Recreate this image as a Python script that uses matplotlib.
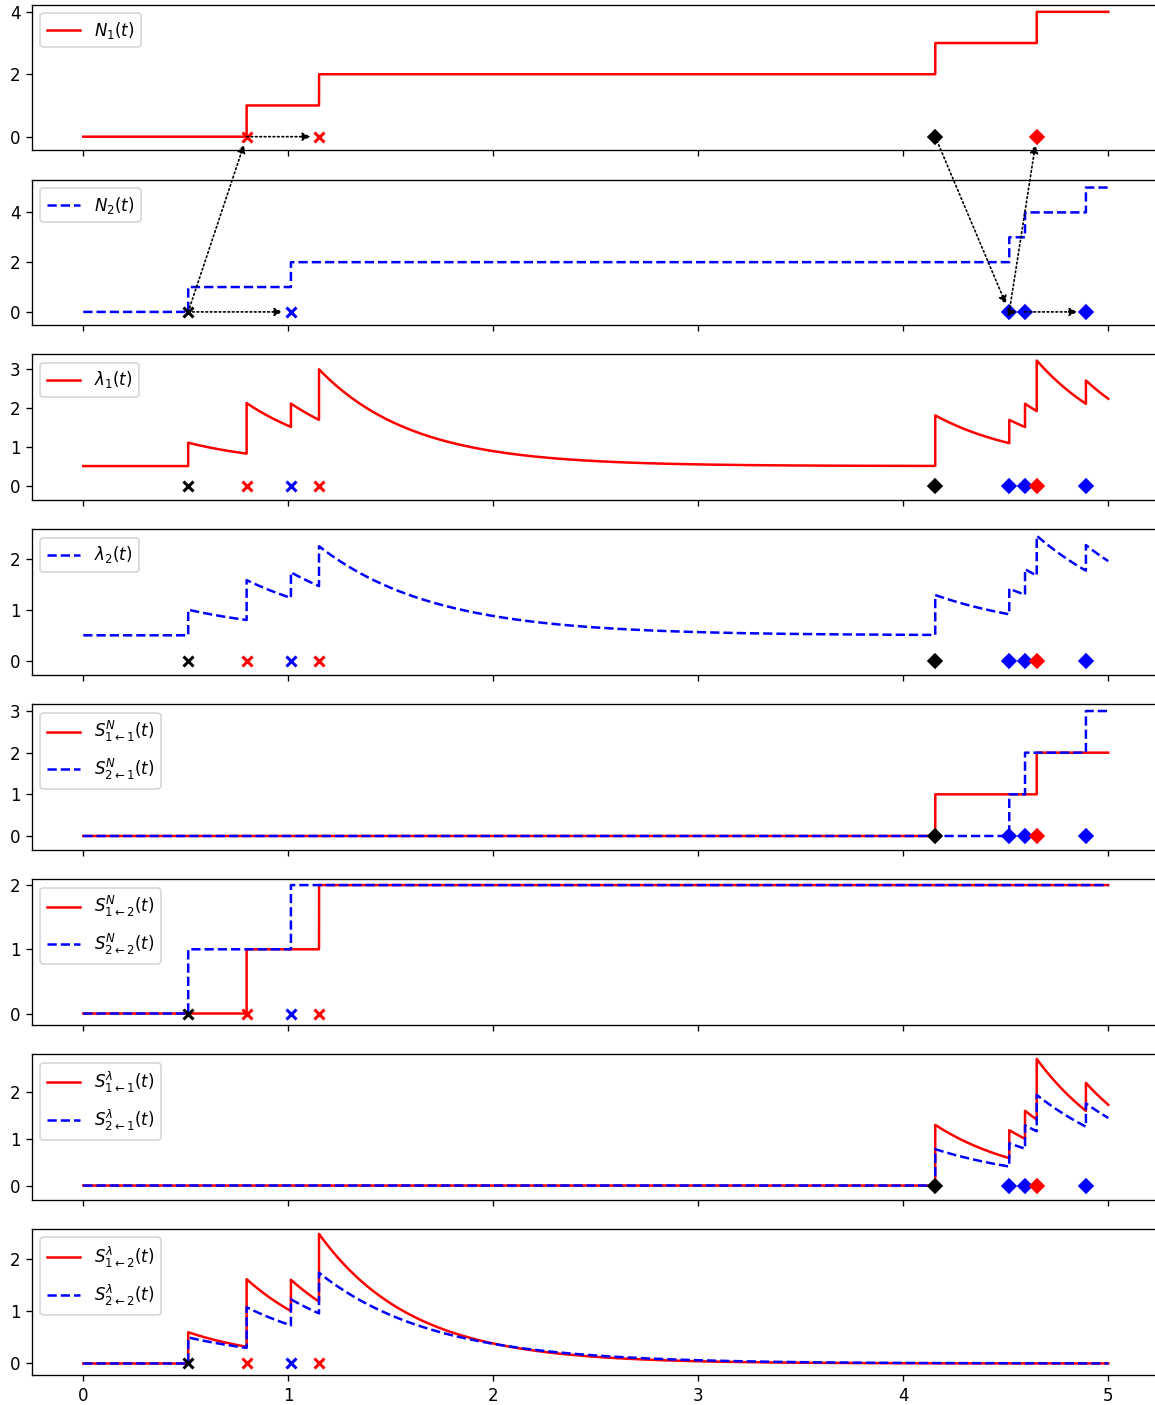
import numpy as np
import matplotlib
matplotlib.use("Agg")
import matplotlib.pyplot as plt
from matplotlib.patches import ConnectionPatch

# ---- event data of a two-dimensional Hawkes process ----
event_times = [0.512, 0.797, 1.013, 1.150, 4.156, 4.517, 4.594, 4.651, 4.891]
event_dims = [2, 1, 2, 1, 1, 2, 2, 1, 2]          # dimension each event belongs to
event_parents = [None, 0, 0, 1, None, 4, 5, 5, 6]  # index of triggering event (None = immigrant)

# ---- model parameters ----
mu = [0.5, 0.5]                      # baseline intensities
alpha = [[1.30, 0.60],               # alpha[i][j]: jump in lambda_i caused by an event of dim j
         [0.78, 0.50]]
beta = [2.2, 1.8]                    # decay rate of lambda_i
t_end = 5.0

# per-panel y-limits
ylims = [(-0.44, 4.23), (-0.54, 5.32), (-0.38, 3.37), (-0.28, 2.57),
         (-0.34, 3.16), (-0.18, 2.09), (-0.31, 2.815), (-0.22, 2.58)]

colors = {1: "r", 2: "b"}
styles = {1: "-", 2: "--"}

n_ev = len(event_times)
ev_t = np.array(event_times)
ev_d = np.array(event_dims)


def root_of(k):
    while event_parents[k] is not None:
        k = event_parents[k]
    return k


roots = [root_of(k) for k in range(n_ev)]
root_dim = np.array([event_dims[r] for r in roots])
cluster_marker = {0: "x", 4: "D"}
markers = [cluster_marker[r] for r in roots]
marker_colors = ["k" if event_parents[k] is None else colors[event_dims[k]] for k in range(n_ev)]

# time grid with both sides of every jump
base = np.linspace(0, t_end, 3000)
t_grid = np.sort(np.concatenate([base, ev_t, ev_t - 1e-9]))


def counting(mask):
    return np.array([np.sum((ev_t <= t) & mask) for t in t_grid])


def excitation(i, mask):
    out = np.zeros_like(t_grid)
    for k in range(n_ev):
        if not mask[k]:
            continue
        dt = t_grid - ev_t[k]
        on = dt >= 0
        out[on] += alpha[i - 1][ev_d[k] - 1] * np.exp(-beta[i - 1] * dt[on])
    return out


all_mask = np.ones(n_ev, bool)

plt.rcParams["figure.dpi"] = 120
fig, axes = plt.subplots(8, 1, figsize=(1155 / 120, 1405 / 120), dpi=120, sharex=True)
fig.subplots_adjust(left=0.0277, right=1.0039, top=0.9967, bottom=0.0214, hspace=0.2)


def draw_events(ax, mask):
    for k in range(n_ev):
        if mask[k]:
            mew = 1.8 if markers[k] == "x" else 1.0
            ax.plot(ev_t[k], 0, marker=markers[k], color=marker_colors[k],
                    ms=6, mew=mew, linestyle="none", zorder=5)


# counting processes N_1, N_2
for i, ax in zip([1, 2], axes[:2]):
    ax.plot(t_grid, counting(ev_d == i), color=colors[i], ls=styles[i], lw=1.5,
            label=rf"$N_{i}(t)$")
    draw_events(ax, ev_d == i)
    ax.legend(loc="upper left")

# intensities lambda_1, lambda_2
for i, ax in zip([1, 2], axes[2:4]):
    lam = mu[i - 1] + excitation(i, all_mask)
    ax.plot(t_grid, lam, color=colors[i], ls=styles[i], lw=1.5,
            label=rf"$\lambda_{i}(t)$")
    draw_events(ax, all_mask)
    ax.legend(loc="upper left")

# cluster-wise counts S^N_{i<-j}
for j, ax in zip([1, 2], axes[4:6]):
    mask = root_dim == j
    for i in [1, 2]:
        sel = mask & (ev_d == i)
        ax.plot(t_grid, counting(sel), color=colors[i], ls=styles[i], lw=1.5,
                label=rf"$S^N_{{{i}\leftarrow{j}}}(t)$")
    draw_events(ax, mask)
    ax.legend(loc="upper left", labelspacing=0.75)

# cluster-wise intensities S^lambda_{i<-j}
for j, ax in zip([1, 2], axes[6:8]):
    mask = root_dim == j
    for i in [1, 2]:
        ax.plot(t_grid, excitation(i, mask), color=colors[i], ls=styles[i], lw=1.5,
                label=rf"$S^\lambda_{{{i}\leftarrow{j}}}(t)$")
    draw_events(ax, mask)
    ax.legend(loc="upper left", labelspacing=0.75)

for ax, yl in zip(axes, ylims):
    ax.set_ylim(*yl)
axes[-1].set_xlim(-0.25, 5.25)
axes[-1].set_xticks(range(6))

# parent -> child arrows between the counting-process panels
for k in range(n_ev):
    p = event_parents[k]
    if p is None:
        continue
    ax_a = axes[event_dims[p] - 1]
    ax_b = axes[event_dims[k] - 1]
    con = ConnectionPatch(xyA=(ev_t[p], 0), coordsA=ax_a.transData,
                          xyB=(ev_t[k], 0), coordsB=ax_b.transData,
                          arrowstyle="-|>", linestyle=":", color="k", lw=1.0,
                          shrinkA=0, shrinkB=5, mutation_scale=10, zorder=10)
    fig.add_artist(con)

fig.savefig("out.png", dpi=120)
